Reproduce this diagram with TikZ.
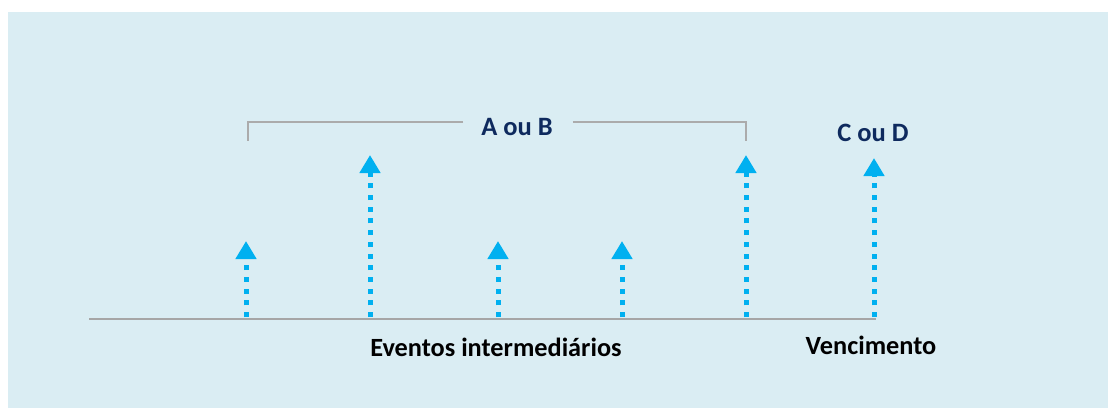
\documentclass[tikz,border=0pt]{standalone}
\usepackage{fontspec}
\setmainfont{Carlito}
\usetikzlibrary{arrows.meta}
\definecolor{bgblue}{HTML}{DAEDF3}
\definecolor{evblue}{HTML}{00B0F0}
\definecolor{navy}{HTML}{0E2A5E}
\definecolor{axisgray}{HTML}{A6A6A6}
\definecolor{brgray}{HTML}{ABABAB}
\tikzset{
  evt/.style={draw=evblue, line width=5pt, dash pattern=on 5pt off 6.7pt,
    -{Triangle[width=20pt,length=18pt,fill=evblue]}},
  navytext/.style={text=navy, font=\fontsize{26.5}{30}\selectfont\bfseries, inner sep=0pt},
  blacktext/.style={text=black, font=\fontsize{26.3}{30}\selectfont\bfseries, inner sep=0pt},
}
\begin{document}
\begin{tikzpicture}[x=1pt,y=-1pt]
\useasboundingbox (0,0) rectangle (1108,408);
\fill[bgblue] (8,12) rectangle (1108,408);
% axis
\coordinate (a0) at (89,319);
\coordinate (a1) at (876,319);
\draw[axisgray, line width=2pt] (a0) -- (a1);
% event bases and tips
\foreach \n/\x/\t in {1/246/241, 2/370/155, 3/498/241, 4/622/241, 5/746/155, 6/874/158}{
  \coordinate (b\n) at (\x,317);
  \coordinate (t\n) at (\x,\t);
  \draw[evt] (b\n) -- (t\n);
}
% bracket
\node[navytext] (ab) at (517,127) {A ou B};
\coordinate (l0) at (248,141);
\coordinate (l1) at (248,122);
\coordinate (r0) at (746,141);
\coordinate (r1) at (746,122);
\draw[brgray, line width=1.5pt] (ab.west) ++(-18,-5) -- (l1) -- (l0);
\draw[brgray, line width=1.5pt] (ab.east) ++(20,-5) -- (r1) -- (r0);
\node[navytext] (cd) at (873,133) {C ou D};
\node[blacktext] (ev) at (496,347) {Eventos intermediários};
\node[blacktext] (ve) at (871,345) {Vencimento};
\end{tikzpicture}
\end{document}
